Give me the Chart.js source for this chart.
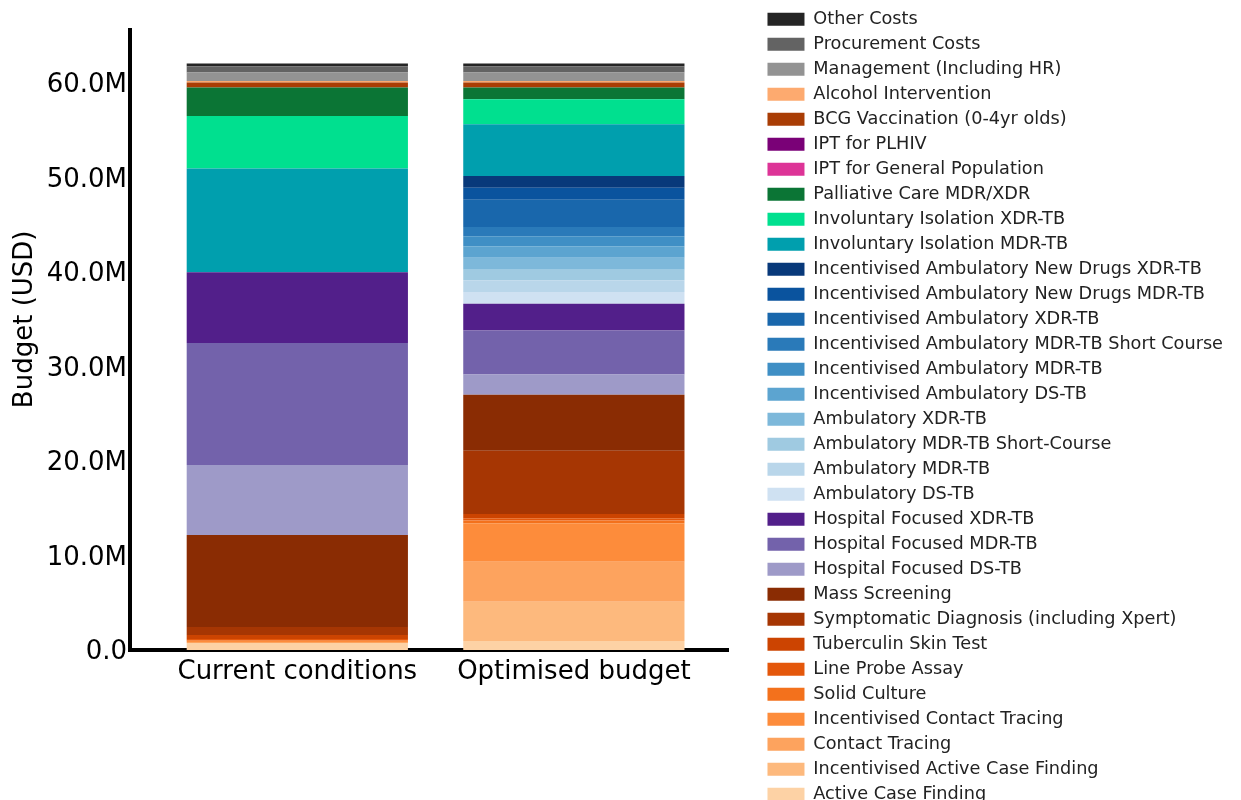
<!DOCTYPE html>
<html>
<head>
<meta charset="utf-8">
<title>Budget (USD)</title>
<script src="https://cdn.jsdelivr.net/npm/chart.js@4.4.0/dist/chart.umd.min.js"></script>
<style>
  html, body { margin: 0; padding: 0; background: #fff; overflow: hidden; }
  #wrap { width: 1241px; height: 800px; overflow: hidden; }
</style>
</head>
<body>
<div id="wrap"><canvas id="budgetChart" width="1241" height="830"></canvas></div>
<script>
// ==================================================
// Data (millions of USD), bottom of the stack first
// ==================================================
const categories = ['Current conditions', 'Optimised budget'];

const programs = [
  'Active Case Finding',
  'Incentivised Active Case Finding',
  'Contact Tracing',
  'Incentivised Contact Tracing',
  'Solid Culture',
  'Line Probe Assay',
  'Tuberculin Skin Test',
  'Symptomatic Diagnosis (including Xpert)',
  'Mass Screening',
  'Hospital Focused DS-TB',
  'Hospital Focused MDR-TB',
  'Hospital Focused XDR-TB',
  'Ambulatory DS-TB',
  'Ambulatory MDR-TB',
  'Ambulatory MDR-TB Short-Course',
  'Ambulatory XDR-TB',
  'Incentivised Ambulatory DS-TB',
  'Incentivised Ambulatory MDR-TB',
  'Incentivised Ambulatory MDR-TB Short Course',
  'Incentivised Ambulatory XDR-TB',
  'Incentivised Ambulatory New Drugs MDR-TB',
  'Incentivised Ambulatory New Drugs XDR-TB',
  'Involuntary Isolation MDR-TB',
  'Involuntary Isolation XDR-TB',
  'Palliative Care MDR/XDR',
  'IPT for General Population',
  'IPT for PLHIV',
  'BCG Vaccination (0-4yr olds)',
  'Alcohol Intervention',
  'Management (Including HR)',
  'Procurement Costs',
  'Other Costs'
];

const currentConditions = [
  0.74, 0, 0.1, 0.1, 0.1, 0.12, 0.42, 0.85, 9.74,
  7.4, 12.9, 7.5,
  0, 0, 0, 0, 0, 0, 0, 0, 0, 0,
  10.97, 5.57, 3.0, 0, 0,
  0.53, 0.17, 0.89, 0.67, 0.29
];

const optimisedBudget = [
  0.95, 4.16, 4.23, 4.06, 0.3, 0.25, 0.45, 6.67, 5.93,
  2.15, 4.66, 2.83,
  1.23, 1.24, 1.13, 1.27, 1.2, 1.06, 0.98, 2.9, 1.27, 1.23,
  5.47, 2.65, 1.24, 0, 0,
  0.53, 0.17, 0.89, 0.67, 0.29
];

const yTicks = [0, 10, 20, 30, 40, 50, 60];

const colors = [
  '#fdd2a5', '#fdb97d', '#fda35e', '#fd8c3b', '#f3711c', '#e4570b', '#cc4401', '#a63603', '#8a2c03',
  '#9e9ac8', '#7362ab', '#521f8a',
  '#cfe1f2', '#b9d6ea', '#9fcae1', '#7db8da', '#5ca4d0', '#3f8fc5', '#2a7ab9', '#1967ac', '#0a539e', '#08397a',
  '#009fae', '#00e08f', '#0b7535', '#dd3497', '#7a0177',
  '#a93d05', '#fdaa6f', '#939393', '#636363', '#252525'
];

// ==================================================
// Chart
// ==================================================
const FONT = 'DejaVu Sans';

const datasets = programs.map((name, i) => ({
  label: name,
  data: [currentConditions[i], optimisedBudget[i]],
  backgroundColor: colors[i],
  borderWidth: 0,
  barPercentage: 0.8,
  categoryPercentage: 1
}));

new Chart(document.getElementById('budgetChart'), {
  type: 'bar',
  data: {
    labels: categories.map((_, i) => i),
    datasets: datasets
  },
  options: {
    responsive: false,
    animation: false,
    layout: { padding: { top: 3, right: 8, left: 0, bottom: 0 } },
    plugins: {
      // empty title only reserves the space above the axes
      title: { display: true, text: '', font: { size: 10 }, padding: { top: 7, bottom: 8 } },
      legend: {
        position: 'right',
        align: 'start',
        reverse: true,
        maxWidth: 560,
        labels: {
          font: { family: FONT, size: 17.7 },
          color: '#222',
          boxWidth: 37,
          boxHeight: 13,
          padding: 7.3
        }
      },
      tooltip: { enabled: false }
    },
    scales: {
      x: {
        type: 'linear',
        stacked: true,
        offset: false,
        min: -0.605,
        max: 1.558,
        grid: { display: false, drawTicks: false },
        border: { display: true, color: '#000', width: 4 },
        afterBuildTicks: scale => { scale.ticks = categories.map((_, i) => ({ value: i })); },
        afterFit: scale => { scale.height = 180; },
        ticks: {
          callback: v => categories[v],
          font: { family: FONT, size: 26 },
          color: '#000',
          padding: 7,
          maxRotation: 0,
          autoSkip: false
        }
      },
      y: {
        stacked: true,
        min: 0,
        max: 65.6,
        grid: { display: false, drawTicks: false },
        border: { display: true, color: '#000', width: 4 },
        afterBuildTicks: scale => { scale.ticks = yTicks.map(v => ({ value: v })); },
        afterFit: scale => { scale.width = 130; },
        ticks: {
          callback: v => v === 0 ? '0.0' : v.toFixed(1) + 'M',
          font: { family: FONT, size: 26 },
          color: '#000',
          padding: 3,
          labelOffset: 2.5
        },
        title: {
          display: true,
          // leading spaces lift the label a little above the axis centre
          text: '     Budget (USD)',
          font: { family: FONT, size: 26 },
          color: '#000',
          padding: { top: 10, bottom: 0 }
        }
      },
      // spacer between plot and legend
      spacer: {
        type: 'linear',
        position: 'right',
        grid: { display: false, drawTicks: false },
        border: { display: false },
        ticks: { display: false },
        afterFit: scale => { scale.width = 32; }
      }
    }
  }
});
</script>
</body>
</html>
